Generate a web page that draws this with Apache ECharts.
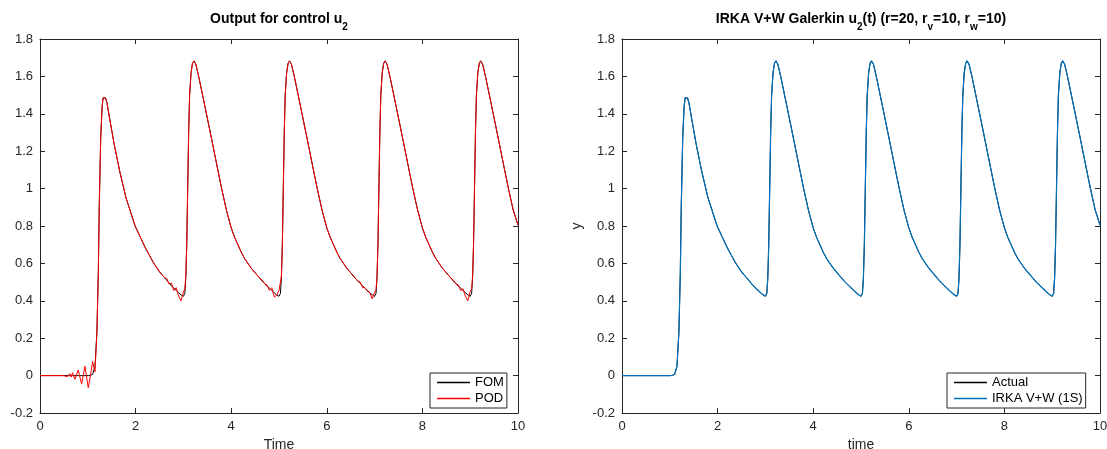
<!DOCTYPE html>
<html>
<head>
<meta charset="utf-8">
<script src="https://cdn.jsdelivr.net/npm/echarts@6/dist/echarts.min.js"></script>
<style>
  html, body { margin: 0; padding: 0; background: #fff; }
  #chart { width: 1107px; height: 449px; }
</style>
</head>
<body>
<div id="chart"></div>
<script>
// ---- Data ----
const timeValues = [
  0, 0.3, 0.5, 0.52, 0.57, 0.62, 0.65, 0.68, 0.73, 0.8, 0.87, 0.94, 1.01, 1.055, 1.1, 1.15, 1.19, 1.22, 1.24, 1.27, 1.3, 1.32, 1.345,
  1.37, 1.4, 1.46, 1.55, 1.67, 1.8, 1.99, 2.2, 2.37, 2.5, 2.6, 2.65, 2.7, 2.75, 2.8, 2.85, 2.9, 2.95, 3.0,
  3.03, 3.05, 3.07, 3.09, 3.11, 3.13, 3.16, 3.19, 3.22,
  3.26, 3.32, 3.45, 3.59, 3.72, 3.8, 3.9, 4.0, 4.07, 4.14, 4.21, 4.28, 4.42, 4.5, 4.6, 4.65, 4.7, 4.75, 4.8, 4.85, 4.9, 4.95, 5.0,
  5.03, 5.05, 5.07, 5.09, 5.11, 5.13, 5.16, 5.19, 5.22,
  5.26, 5.32, 5.45, 5.59, 5.72, 5.8, 5.9, 6.0, 6.07, 6.14, 6.21, 6.28, 6.42, 6.5, 6.6, 6.65, 6.7, 6.75, 6.8, 6.85, 6.9, 6.95, 7.0,
  7.03, 7.05, 7.07, 7.09, 7.11, 7.13, 7.16, 7.19, 7.22,
  7.26, 7.32, 7.45, 7.59, 7.72, 7.8, 7.9, 8.0, 8.07, 8.14, 8.21, 8.28, 8.42, 8.5, 8.6, 8.65, 8.7, 8.75, 8.8, 8.85, 8.9, 8.95, 9.0,
  9.03, 9.05, 9.07, 9.09, 9.11, 9.13, 9.16, 9.19, 9.22,
  9.26, 9.32, 9.45, 9.59, 9.72, 9.8, 9.9, 10.0
];
const fomValues = [
  0, 0, 0, 0, 0, 0, 0, 0, 0, 0, 0, 0, 0, 0.002, 0.006, 0.05, 0.23, 0.55, 0.91, 1.27, 1.44, 1.485, 1.495,
  1.485, 1.46, 1.37, 1.24, 1.09, 0.95, 0.8, 0.685, 0.605, 0.555, 0.525, 0.51, 0.495, 0.48, 0.467, 0.455, 0.443, 0.432, 0.424,
  0.44, 0.52, 0.7, 1.0, 1.3, 1.5, 1.62, 1.67, 1.683,
  1.665, 1.6, 1.44, 1.265, 1.1, 1.0, 0.885, 0.79, 0.74, 0.7, 0.66, 0.626, 0.574, 0.55, 0.52, 0.505, 0.492, 0.48, 0.467, 0.455, 0.443, 0.432, 0.424,
  0.44, 0.52, 0.7, 1.0, 1.3, 1.5, 1.62, 1.67, 1.683,
  1.665, 1.6, 1.44, 1.265, 1.1, 1.0, 0.885, 0.79, 0.74, 0.7, 0.66, 0.626, 0.574, 0.55, 0.52, 0.505, 0.492, 0.48, 0.467, 0.455, 0.443, 0.432, 0.424,
  0.44, 0.52, 0.7, 1.0, 1.3, 1.5, 1.62, 1.67, 1.683,
  1.665, 1.6, 1.44, 1.265, 1.1, 1.0, 0.885, 0.79, 0.74, 0.7, 0.66, 0.626, 0.574, 0.55, 0.52, 0.505, 0.492, 0.48, 0.467, 0.455, 0.443, 0.432, 0.424,
  0.44, 0.52, 0.7, 1.0, 1.3, 1.5, 1.62, 1.67, 1.683,
  1.665, 1.6, 1.44, 1.265, 1.1, 1.0, 0.885, 0.805
];
const podValues = [
  0, 0, 0, 0.004, -0.006, 0.01, -0.008, 0.015, -0.02, 0.03, -0.045, 0.05, -0.065, 0.0, 0.076, 0.02, 0.23, 0.55, 0.91, 1.27, 1.44, 1.485, 1.495,
  1.485, 1.46, 1.37, 1.24, 1.09, 0.95, 0.8, 0.685, 0.605, 0.555, 0.525, 0.52, 0.49, 0.495, 0.455, 0.47, 0.425, 0.40, 0.445,
  0.465, 0.53, 0.7, 1.0, 1.3, 1.5, 1.62, 1.67, 1.683,
  1.665, 1.6, 1.44, 1.265, 1.1, 1.0, 0.885, 0.79, 0.74, 0.7, 0.66, 0.626, 0.574, 0.55, 0.52, 0.51, 0.49, 0.485, 0.455, 0.47, 0.42, 0.43, 0.455,
  0.46, 0.53, 0.7, 1.0, 1.3, 1.5, 1.62, 1.67, 1.683,
  1.665, 1.6, 1.44, 1.265, 1.1, 1.0, 0.885, 0.79, 0.74, 0.7, 0.66, 0.626, 0.574, 0.55, 0.52, 0.505, 0.50, 0.47, 0.47, 0.45, 0.445, 0.41, 0.445,
  0.46, 0.53, 0.7, 1.0, 1.3, 1.5, 1.62, 1.67, 1.683,
  1.665, 1.6, 1.44, 1.265, 1.1, 1.0, 0.885, 0.79, 0.74, 0.7, 0.66, 0.626, 0.574, 0.55, 0.52, 0.51, 0.49, 0.485, 0.455, 0.465, 0.425, 0.40, 0.45,
  0.465, 0.53, 0.7, 1.0, 1.3, 1.5, 1.62, 1.67, 1.683,
  1.665, 1.6, 1.44, 1.265, 1.1, 1.0, 0.885, 0.805
];
// IRKA V+W reduced model overlaps the actual response within the line width
const actualValues = fomValues;
const irkaValues = fomValues.slice();

const xTicks = [0, 2, 4, 6, 8, 10];
const yTickLabels = ['-0.2', '0', '0.2', '0.4', '0.6', '0.8', '1', '1.2', '1.4', '1.6', '1.8'];
const leftLegend = ['FOM', 'POD'];
const rightLegend = ['Actual', 'IRKA V+W (1S)'];

// ---- Chart ----
const FONT = '"Liberation Sans", Arial, Helvetica, sans-serif';
const AX = '#262626';
const pairs = (vals) => timeValues.map((t, i) => [t, vals[i]]);

function xAxes(gi, name) {
  const common = {
    type: 'value', gridIndex: gi, min: xTicks[0], max: xTicks[xTicks.length - 1], interval: xTicks[1] - xTicks[0],
    axisLine: { show: true, onZero: false, lineStyle: { color: AX, width: 1 } },
    axisTick: { show: true, inside: true, length: 5, lineStyle: { color: AX, width: 1 } },
    splitLine: { show: false }
  };
  return [
    Object.assign({}, common, {
      position: 'bottom',
      axisLabel: { color: AX, fontSize: 13, fontFamily: FONT, margin: 7 },
      name: name, nameLocation: 'middle', nameGap: 16,
      nameTextStyle: { color: AX, fontSize: 14, fontFamily: FONT }
    }),
    Object.assign({}, common, { position: 'top', axisLabel: { show: false } })
  ];
}
function yAxes(gi, name) {
  const common = {
    type: 'value', gridIndex: gi, min: -0.2, max: 1.8, interval: 0.2,
    axisLine: { show: true, onZero: false, lineStyle: { color: AX, width: 1 } },
    axisTick: { show: true, inside: true, length: 5, lineStyle: { color: AX, width: 1 } },
    splitLine: { show: false }
  };
  return [
    Object.assign({}, common, {
      position: 'left',
      axisLabel: {
        color: AX, fontSize: 13, fontFamily: FONT, margin: 7,
        formatter: (v) => yTickLabels[Math.round((v + 0.2) / 0.2)]
      },
      name: name, nameLocation: 'middle', nameGap: 38, nameRotate: 90,
      nameTextStyle: { color: AX, fontSize: 14, fontFamily: FONT }
    }),
    Object.assign({}, common, { position: 'right', axisLabel: { show: false } })
  ];
}
function legendCfg(data, left) {
  return {
    data: data, orient: 'vertical', left: left, top: 373,
    padding: [2, 3, 2, 7], itemGap: 1, itemWidth: 33, itemHeight: 1.5, icon: 'rect',
    borderColor: AX, borderWidth: 1, backgroundColor: '#fff',
    textStyle: { color: '#000', fontSize: 13, fontFamily: FONT, lineHeight: 15 }
  };
}

const titleRich = {
  m: { fontSize: 14, fontWeight: 'bold', fontFamily: FONT, color: '#000', lineHeight: 20, verticalAlign: 'top' },
  s: { fontSize: 10, fontWeight: 'bold', fontFamily: FONT, color: '#000', lineHeight: 10, verticalAlign: 'bottom' }
};

const chart = echarts.init(document.getElementById('chart'), null, { renderer: 'canvas' });
chart.setOption({
  animation: false,
  backgroundColor: '#fff',
  grid: [
    { left: 40, top: 39, width: 478, height: 374, containLabel: false, outerBoundsMode: 'none' },
    { left: 622, top: 39, width: 478, height: 374, containLabel: false, outerBoundsMode: 'none' }
  ],
  xAxis: [...xAxes(0, 'Time'), ...xAxes(1, 'time')],
  yAxis: [...yAxes(0, ''), ...yAxes(1, 'y')],
  legend: [legendCfg(leftLegend, 430), legendCfg(rightLegend, 947)],
  graphic: [
    { type: 'text', x: 279, y: 12, style: { text: '{m|Output for control u}{s|2}', rich: titleRich, textAlign: 'center' } },
    { type: 'text', x: 861, y: 12, style: { text: '{m|IRKA V+W Galerkin u}{s|2}{m|(t) (r=20, r}{s|v}{m|=10, r}{s|w}{m|=10)}', rich: titleRich, textAlign: 'center' } }
  ],
  series: [
    { name: 'FOM', type: 'line', xAxisIndex: 0, yAxisIndex: 0, data: pairs(fomValues), showSymbol: false, symbol: 'none',
      lineStyle: { color: '#000', width: 1 }, itemStyle: { color: '#000' }, z: 2 },
    { name: 'POD', type: 'line', xAxisIndex: 0, yAxisIndex: 0, data: pairs(podValues), showSymbol: false, symbol: 'none',
      lineStyle: { color: '#ff0000', width: 1 }, itemStyle: { color: '#ff0000' }, z: 3 },
    { name: 'Actual', type: 'line', xAxisIndex: 2, yAxisIndex: 2, data: pairs(actualValues), showSymbol: false, symbol: 'none',
      lineStyle: { color: '#000', width: 1 }, itemStyle: { color: '#000' }, z: 2 },
    { name: 'IRKA V+W (1S)', type: 'line', xAxisIndex: 2, yAxisIndex: 2, data: pairs(irkaValues), showSymbol: false, symbol: 'none',
      lineStyle: { color: '#0072BD', width: 1.2 }, itemStyle: { color: '#0072BD' }, z: 3 }
  ]
});
</script>
</body>
</html>
